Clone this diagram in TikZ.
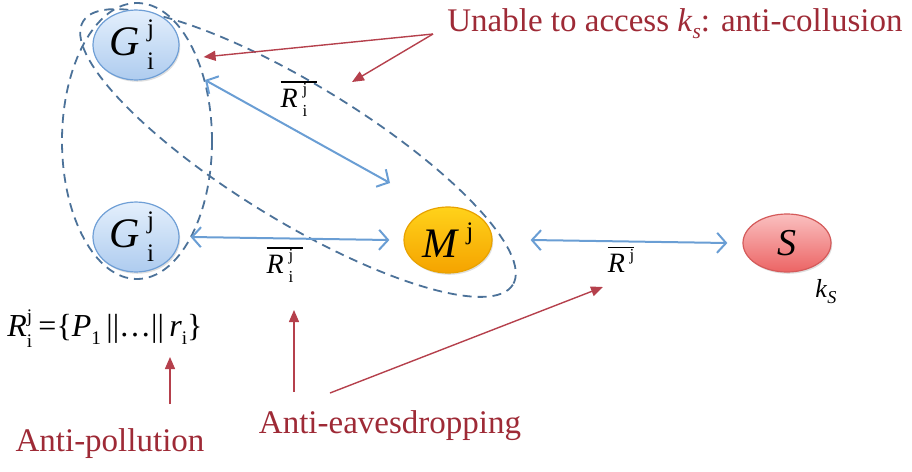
\documentclass[tikz,border=0pt]{standalone}
\usepackage{fontspec}
\setmainfont{Liberation Serif}
\usetikzlibrary{shapes.geometric,arrows.meta,shadows,calc}
\definecolor{gborder}{HTML}{6F9FD6}
\definecolor{gtop}{HTML}{E4EFFC}
\definecolor{gbot}{HTML}{AECCEF}
\definecolor{mborder}{HTML}{E8A200}
\definecolor{mtop}{HTML}{FFD21A}
\definecolor{mbot}{HTML}{F5A300}
\definecolor{sborder}{HTML}{D45A5A}
\definecolor{stop}{HTML}{FAC0C0}
\definecolor{sbot}{HTML}{EC6464}
\definecolor{ablue}{HTML}{6A9ED4}
\definecolor{dblue}{HTML}{4C7299}
\definecolor{rtext}{HTML}{9E2A36}
\definecolor{rarrow}{HTML}{B5404C}
\newcommand{\supsub}[2]{\makebox[0.36em][l]{\rlap{\raisebox{0.95ex}{\scalebox{0.6}{#1}}}\raisebox{-0.75ex}{\scalebox{0.6}{#2}}}}
\newcommand{\supj}[1]{\raisebox{0.95ex}{\scalebox{0.6}{#1}}}
\newcommand{\rbar}[1]{\leavevmode\vbox{\hrule height 0.6pt \vskip 0.6pt\hbox{#1}}}
\begin{document}
\begin{tikzpicture}[x=0.5pt,y=-0.5pt,
  ent/.style={ellipse, inner sep=0pt, line width=0.6pt,
    drop shadow={opacity=0.25, shadow xshift=0.6pt, shadow yshift=-0.9pt},
    font=\fontsize{21}{21}\selectfont},
  gnode/.style={ent, minimum width=43pt, minimum height=31pt, draw=gborder, top color=gtop, bottom color=gbot},
  mnode/.style={ent, minimum width=44pt, minimum height=33pt, draw=mborder, top color=mtop, bottom color=mbot},
  snode/.style={ent, minimum width=44pt, minimum height=29pt, draw=sborder, top color=stop, bottom color=sbot, font=\fontsize{19}{19}\selectfont},
  barrow/.style={draw=ablue, line width=1pt, {Straight Barb[length=4.5pt,width=10pt]}-{Straight Barb[length=4.5pt,width=10pt]}},
  rarr/.style={draw=rarrow, line width=0.7pt, -{Triangle[length=6pt,width=5pt]}},
  dashell/.style={draw=dblue, line width=0.9pt, dash pattern=on 4.5pt off 3pt},
  lab/.style={font=\fontsize{14}{14}\selectfont, inner sep=0pt},
  rlab/.style={text=rtext, font=\fontsize{16.5}{18}\selectfont, inner sep=0pt}
]
\useasboundingbox (0,0) rectangle (912,472);

% dashed groupings
\draw[dashell] (137,141) ellipse [x radius=75, y radius=138];
\draw[dashell, rotate around={-31.5:(298,153)}] (298,153) ellipse [x radius=252, y radius=68];

% entities
\node[gnode] (g1) at (136,45) {\textit{G}\,\supsub{j}{i}};
\node[gnode] (g2) at (136,237) {\textit{G}\,\supsub{j}{i}};
\node[mnode] (m) at (448,240) {\textit{M}\,\supj{j}};
\node[snode] (s) at (787,243) {\textit{S}};
\node[lab, font=\fontsize{13}{13}\selectfont] (ks) at (826,292) {\textit{k}\raisebox{-0.5ex}{\scalebox{0.7}{\textit{S}}}};

% blue connectors
\draw[barrow] ($(g1.center)+(69,35)$) -- ($(m.center)+(-58,-57)$);
\draw[barrow] ($(g2.east)+(11,0)$) -- ($(m.west)+(-14,0)$);
\draw[barrow] ($(m.east)+(38,0)$) -- ($(s.west)+(-15,0)$);

% labels on connectors
\node[lab] (l1) at (299,99) {\rbar{\textit{R}\,\supsub{j}{i}\,}};
\node[lab] (l2) at (285,265) {\rbar{\textit{R}\,\supsub{j}{i}\,}};
\node[lab] (l3) at (621,260) {\rbar{\textit{R}\,\supj{j}}};

% formula
\node[inner sep=0pt, font=\fontsize{16}{16}\selectfont] (f) at (105,329) {\textit{R}\supsub{j}{i}=\{\textit{P}\raisebox{-0.5ex}{\scalebox{0.6}{1}}\,||…||\,\textit{r}\raisebox{-0.5ex}{\scalebox{0.6}{i}}\}};

% red texts
\node[rlab, anchor=west] (un) at (447,24) {Unable to access \textit{k}\raisebox{-0.45ex}{\scalebox{0.65}{\textit{s}}}: anti-collusion};
\node[rlab] (ap) at (110,444) {Anti-pollution};
\node[rlab] (ae) at (390,426) {Anti-eavesdropping};

% red arrows
\coordinate (u0) at ($(un.west)+(-14,10)$);
\coordinate (c1) at (352,82);
\draw[rarr] (u0) -- ($(g1.east)+(24,12)$);
\draw[rarr] (u0) -- (c1);
\coordinate (p0) at (170,404);
\coordinate (p1) at (170,357);
\draw[rarr] (p0) -- (p1);
\coordinate (e0) at (294,392);
\coordinate (e1) at (294,310);
\coordinate (e2) at (330,393);
\coordinate (e3) at (603,287);
\draw[rarr] (e0) -- (e1);
\draw[rarr] (e2) -- (e3);
\end{tikzpicture}
\end{document}
